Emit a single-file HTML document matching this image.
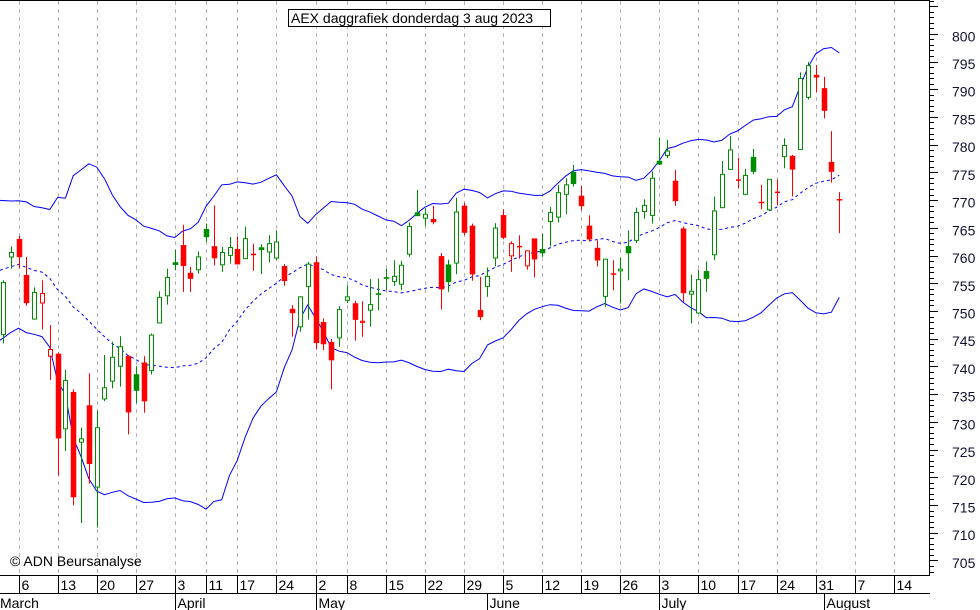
<!DOCTYPE html>
<html><head><meta charset="utf-8"><style>
html,body{margin:0;padding:0;background:#fff;}
svg{display:block;font-family:"Liberation Sans",sans-serif;}
</style></head><body>
<svg id="chart" width="980" height="610" viewBox="0 0 980 610" xmlns="http://www.w3.org/2000/svg">
<g id="grid"></g>
<g id="bands"></g>
<g id="candles"></g>
<g id="yaxis"></g>
<g id="xaxis"></g>
<line x1="0" y1="0.5" x2="930" y2="0.5" stroke="#000"/>
<rect x="288.5" y="9.5" width="262" height="17" fill="#fff" stroke="#000"/>
<text x="291" y="23" font-size="14" fill="#000">AEX daggrafiek donderdag 3 aug 2023</text>
<text x="10" y="566" font-size="14" fill="#000">© ADN Beursanalyse</text>
</svg>
<script>
const opens=[746.1,760.1,763.4,756.9,748.9,751.8,742.2,742.7,729.1,735.8,726.7,733.4,718.6,734.5,737.7,740.4,742.3,739.0,741.1,739.6,748.2,753.1,759.2,762.3,757.3,757.8,765.2,762.1,758.7,760.4,761.6,759.8,760.5,761.9,761.0,759.9,758.5,750.8,747.5,754.8,759.2,748.4,744.8,745.5,752.3,751.8,748.3,750.5,753.6,756.5,755.7,755.2,760.6,768.2,767.1,767.0,760.3,758.8,759.0,769.4,765.8,750.6,754.8,759.9,767.7,760.3,762.0,758.5,763.5,761.6,766.5,767.3,771.4,775.5,771.2,765.8,761.8,753.0,757.2,757.6,762.1,763.1,768.3,767.6,777.5,778.4,773.9,765.3,753.4,750.0,757.6,760.5,769.0,775.9,774.0,771.4,778.2,770.1,768.6,771.8,778.2,778.4,779.5,788.9,793.0,790.6,777.3,770.6];
const highs=[756.0,762.1,764.0,760.2,754.7,756.0,747.9,743.0,739.8,736.3,729.4,739.2,732.5,742.5,744.9,745.9,742.5,740.5,742.3,746.4,754.0,758.1,761.5,766.0,758.4,761.2,766.2,769.5,762.0,763.8,763.8,765.7,762.6,762.5,764.1,765.0,758.9,751.5,753.1,759.3,760.3,749.1,745.4,751.3,755.1,752.3,752.2,756.2,756.3,758.1,759.6,759.5,766.4,772.3,769.0,769.4,760.9,759.7,770.9,770.0,766.2,756.6,758.3,766.3,768.8,763.0,764.1,761.3,763.5,764.4,769.2,773.2,774.4,776.8,773.0,767.7,763.2,759.8,759.6,760.1,765.0,769.1,770.6,775.6,781.7,781.3,775.9,765.7,757.0,757.9,759.4,771.1,777.5,782.0,778.1,776.1,779.7,773.2,774.2,774.2,781.6,778.6,793.5,795.4,794.8,792.7,782.9,771.9];
const lows=[744.6,758.1,758.1,751.4,748.9,747.1,738.0,720.8,725.2,715.4,712.2,719.3,711.4,734.2,736.5,736.8,728.2,733.8,732.1,739.0,748.2,751.6,757.8,753.9,753.9,757.2,762.9,758.7,757.5,759.0,758.9,759.8,757.7,757.1,759.2,759.6,755.0,745.8,746.7,748.9,743.5,743.4,736.3,744.0,751.9,745.1,745.8,747.6,750.6,754.2,755.0,754.2,760.2,767.6,765.8,766.1,750.7,753.9,757.1,764.1,755.9,748.8,753.0,758.5,763.4,757.5,759.9,757.9,756.5,760.2,762.1,766.4,767.9,772.9,768.6,763.0,758.5,751.2,754.2,751.8,756.0,762.7,767.1,766.2,776.8,778.0,769.4,752.1,748.2,750.0,753.9,759.6,769.0,775.9,772.6,771.4,775.1,768.8,768.5,769.5,776.2,771.1,779.5,788.6,789.9,785.2,773.6,764.5];
const closes=[755.6,761.0,760.2,751.9,753.8,753.6,743.5,727.5,737.9,716.9,727.4,722.9,729.4,736.6,742.1,744.0,732.2,736.1,734.2,746.1,752.9,756.5,758.8,758.6,756.3,760.2,763.8,760.0,761.0,761.9,758.9,763.5,760.7,761.5,762.6,762.9,755.9,750.1,753.0,758.9,744.7,744.5,741.6,750.7,753.0,748.9,748.6,751.6,753.4,756.3,756.7,758.7,765.7,767.6,767.9,766.5,754.4,755.7,768.3,764.6,757.1,749.4,756.7,765.4,763.7,762.6,762.1,761.3,759.8,760.9,768.2,771.8,773.2,773.4,769.4,763.4,759.6,759.8,757.1,758.0,760.9,768.2,769.5,774.4,776.9,779.3,770.3,753.7,754.0,756.1,756.3,768.5,775.1,779.5,774.1,774.9,775.6,770.0,774.2,771.9,780.3,776.0,792.4,794.7,792.6,786.6,775.6,770.5];
const prevCloses=[748,752,762,765,760,766,768,762,755,750,752,758,764,767,762,757,750,752,750];
const weekTickIdx=[2,7,12,17,22,26,30,35,40,44,49,54,59,64,69,74,79,84,89,94,99,104,109,114,119];
const weekTickLabels=["6","13","20","27","3","11","17","24","2","8","15","22","29","5","12","19","26","3","10","17","24","31","7","14",""];
const monthIdx=[0,22,40,62,84,105];
const monthLabels=["March","April","May","June","July","August"];
const priceTicks=[705,710,715,720,725,730,735,740,745,750,755,760,765,770,775,780,785,790,795,800];

const NS="http://www.w3.org/2000/svg";
const X0=2.87, STEP=7.816, RIGHT=930;
function xs(i){return X0+STEP*i;}
function ys(p){return 64+(795-p)*5.544;}
function mk(tag,attrs,parent){const e=document.createElementNS(NS,tag);for(const k in attrs)e.setAttribute(k,attrs[k]);parent.appendChild(e);return e;}

const grid=document.getElementById('grid');
weekTickIdx.forEach((ix)=>{const x=Math.round(xs(ix))+0.5;if(x<RIGHT){
 const l=mk('line',{x1:x,y1:1,x2:x,y2:575,stroke:'#b4b4b4','stroke-dasharray':'4,4'},grid);
 
 }});

// bollinger bands
const all=prevCloses.concat(closes);const off=prevCloses.length;
const up=[],mid=[],lo=[];
for(let i=0;i<closes.length;i++){const w=all.slice(i+off-19,i+off+1);const m=w.reduce((a,b)=>a+b,0)/w.length;
 const sd=Math.sqrt(w.reduce((a,b)=>a+(b-m)*(b-m),0)/w.length);mid.push(m);up.push(m+2*sd);lo.push(m-2*sd);}
const bands=document.getElementById('bands');
function pl(arr){return arr.map((v,i)=>(i===0?0:xs(i)).toFixed(1)+','+ys(v).toFixed(1)).join(' ');}
const bu=mk('polyline',{points:pl(up),fill:'none',stroke:'#0000ff','stroke-width':1},bands);


const bm=mk('polyline',{points:pl(mid),fill:'none',stroke:'#0000ff','stroke-width':1,'stroke-dasharray':'3,3'},bands);


const bl=mk('polyline',{points:pl(lo),fill:'none',stroke:'#0000ff','stroke-width':1},bands);



// candles
const cg=document.getElementById('candles');
for(let i=0;i<closes.length;i++){
 const pc=i===0?prevCloses[prevCloses.length-1]:closes[i-1];
 const col=closes[i]>=pc?'#008c00':'#ff0000';
 const filled=closes[i]<opens[i];
 const x=Math.round(xs(i));
 const g=mk('g',{},cg);
 
 
 mk('line',{x1:x+0.5,y1:ys(highs[i]),x2:x+0.5,y2:ys(lows[i]),stroke:col,'stroke-width':1},g);
 const t=ys(Math.max(opens[i],closes[i])),b=ys(Math.min(opens[i],closes[i]));
 const h=Math.max(b-t,1);
 if(filled){mk('rect',{x:x-2,y:t,width:5,height:h,fill:col,stroke:col,'stroke-width':0.5},g);}
 else{mk('rect',{x:x-1.5,y:t,width:4,height:Math.max(h-0.5,0.5),fill:'#fff',stroke:col,'stroke-width':1},g);}
}

// y axis
const ya=document.getElementById('yaxis');
mk('line',{x1:929.5,y1:0,x2:929.5,y2:576,stroke:'#000'},ya);
for(let p=703;p<=811;p++){const y=Math.round(ys(p)-2.5)+0.5;if(y<0||y>575)continue;
 const major=p%5===0;mk('line',{x1:930,y1:y,x2:major?938:934,y2:y,stroke:'#000'},ya);}
priceTicks.forEach(p=>{const t=mk('text',{x:952,y:ys(p)+5,'font-size':14,fill:'#101030'},ya);t.textContent=p;
 
 });

// x axis
const xa=document.getElementById('xaxis');
mk('line',{x1:0,y1:575.5,x2:930,y2:575.5,stroke:'#000'},xa);
mk('line',{x1:0,y1:593.5,x2:930,y2:593.5,stroke:'#000'},xa);
weekTickIdx.forEach((ix,k)=>{const x=Math.round(xs(ix))+0.5;if(x>=RIGHT)return;
 mk('line',{x1:x,y1:576,x2:x,y2:593,stroke:'#000'},xa);
 const t=mk('text',{x:x+2,y:590,'font-size':14,fill:'#000'},xa);t.textContent=weekTickLabels[k];
 
 });
monthIdx.forEach((ix,k)=>{const x=ix===0?-2:Math.round(xs(ix))+0.5;
 if(ix>0)mk('line',{x1:x,y1:594,x2:x,y2:610,stroke:'#000'},xa);
 const t=mk('text',{x:x+2,y:608,'font-size':14,fill:'#000'},xa);t.textContent=monthLabels[k];
 
 });
</script>
</body></html>
